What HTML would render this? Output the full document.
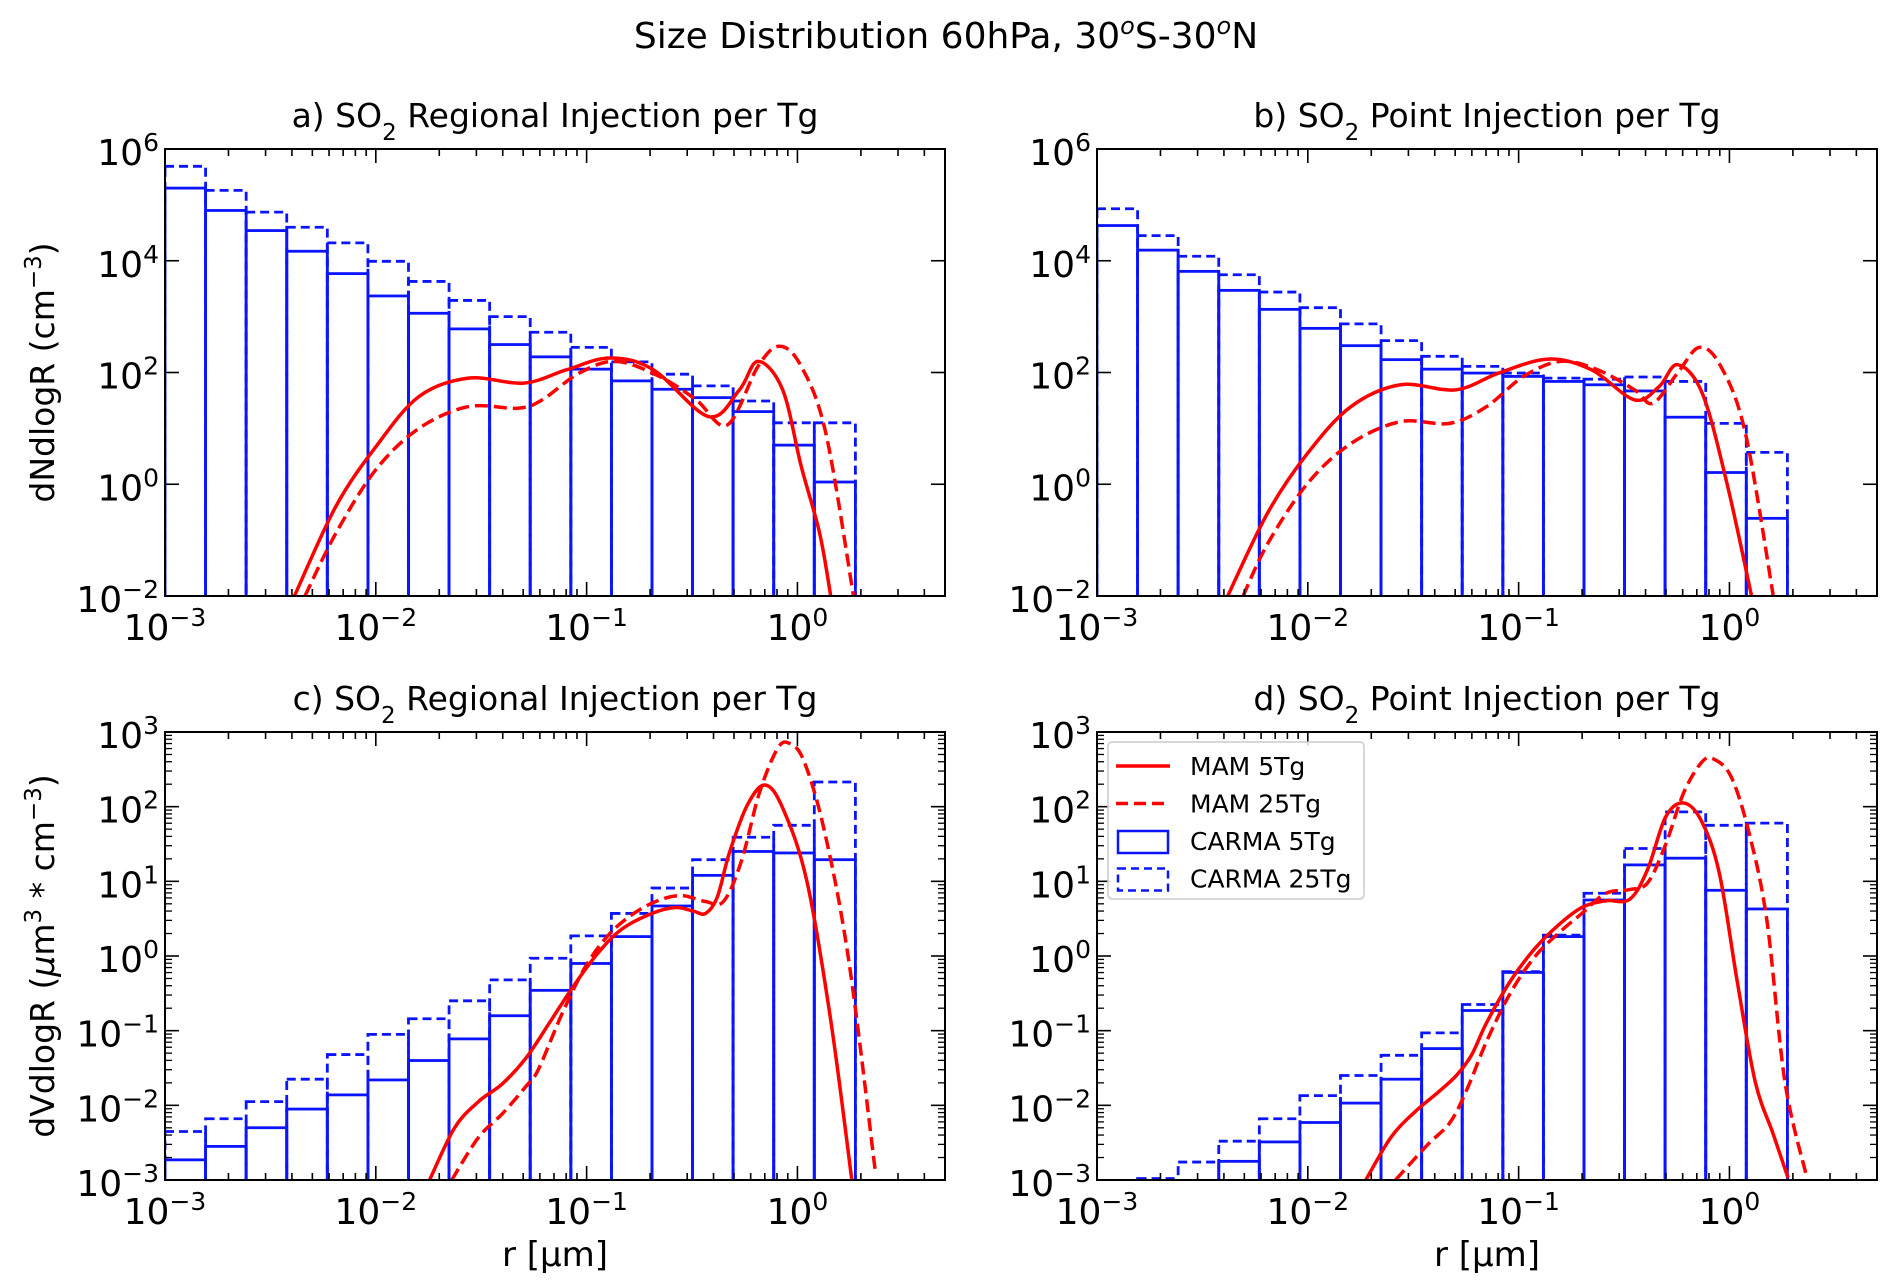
<!DOCTYPE html>
<html><head><meta charset="utf-8"><style>
html,body{margin:0;padding:0;background:#fff;}
svg{display:block;font-family:"DejaVu Sans","Liberation Sans",sans-serif;}
</style></head><body>
<svg id="fig" width="1892" height="1287" viewBox="0 0 1892 1287" xmlns="http://www.w3.org/2000/svg">
<text x="946" y="48" font-size="36" text-anchor="middle">Size Distribution 60hPa, 30<tspan baseline-shift="super" font-size="24" font-style="italic">o</tspan>S-30<tspan baseline-shift="super" font-size="24" font-style="italic">o</tspan>N</text>
</svg>
<script>
// bin edges (log10 of radius in µm)
const binLogEdges = [-3,-2.8075,-2.615,-2.4225,-2.23,-2.0375,-1.845,-1.6525,-1.46,-1.2675,-1.075,-0.8825,-0.69,-0.4975,-0.305,-0.1125,0.08,0.275];
// panel a: log10 dN/dlogR
const aCarma5 = [5.30,4.90,4.54,4.17,3.77,3.37,3.06,2.78,2.50,2.28,2.06,1.85,1.70,1.55,1.30,0.70,0.04];
const aCarma25 = [5.69,5.26,4.87,4.60,4.32,3.99,3.63,3.29,3.00,2.72,2.45,2.19,1.97,1.76,1.49,1.10,1.10];
const aMam5R = [-2.386,-2.19,-2.0,-1.795,-1.561,-1.298,-1.094,-0.889,-0.684,-0.421,-0.275,-0.187,-0.070,0.018,0.105,0.158];
const aMam5V = [-2,-0.40,0.67,1.57,1.90,1.81,2.05,2.26,2.05,1.21,1.69,2.20,1.69,0.32,-0.87,-2];
const aMam25R = [-2.336,-2.19,-2.0,-1.795,-1.561,-1.327,-1.211,-1.035,-0.860,-0.655,-0.480,-0.333,-0.187,-0.085,0.018,0.135,0.266];
const aMam25V = [-2,-0.88,0.26,1.00,1.39,1.36,1.51,1.99,2.20,1.93,1.51,1.06,2.11,2.47,2.11,0.91,-2];
// panel b
const bCarma5 = [4.63,4.19,3.81,3.47,3.13,2.79,2.48,2.23,2.06,1.99,1.93,1.84,1.78,1.67,1.20,0.21,-0.61];
const bCarma25 = [4.93,4.45,4.08,3.75,3.44,3.16,2.87,2.57,2.29,2.11,1.99,1.90,1.88,1.92,1.84,1.09,0.57];
const bMam5R = [-2.380,-2.19,-2.0,-1.795,-1.561,-1.298,-1.094,-0.860,-0.655,-0.450,-0.333,-0.246,-0.129,-0.012,0.105];
const bMam5V = [-2,-0.51,0.56,1.39,1.78,1.69,1.99,2.24,2.05,1.51,1.75,2.14,1.63,0.02,-2];
const bMam25R = [-2.307,-2.19,-2.0,-1.795,-1.561,-1.327,-1.152,-0.977,-0.801,-0.626,-0.450,-0.363,-0.246,-0.143,-0.041,0.076,0.208];
const bMam25V = [-2,-1.06,0.02,0.73,1.12,1.09,1.39,1.93,2.20,2.05,1.69,1.45,1.99,2.45,2.11,0.91,-2];
// panel c: log10 dV/dlogR
const cCarma5 = [-2.73,-2.55,-2.30,-2.05,-1.86,-1.66,-1.40,-1.11,-0.80,-0.46,-0.10,0.26,0.67,1.08,1.40,1.38,1.29];
const cCarma25 = [-2.35,-2.18,-1.95,-1.65,-1.32,-1.05,-0.84,-0.60,-0.32,-0.03,0.27,0.57,0.91,1.29,1.59,1.75,2.33];
const cMam5R = [-1.745,-1.626,-1.513,-1.399,-1.286,-1.173,-1.059,-0.946,-0.833,-0.691,-0.578,-0.493,-0.436,-0.380,-0.323,-0.238,-0.153,-0.068,0.045,0.159,0.258];
const cMam5V = [-3,-2.30,-1.95,-1.71,-1.36,-0.88,-0.39,0.04,0.36,0.57,0.65,0.60,0.57,0.79,1.38,2.02,2.29,1.97,1.00,-0.88,-3];
const cMam25R = [-1.640,-1.513,-1.399,-1.286,-1.229,-1.116,-1.003,-0.890,-0.776,-0.663,-0.550,-0.436,-0.351,-0.266,-0.181,-0.096,-0.040,0.031,0.130,0.244,0.371];
const cMam25V = [-3,-2.43,-2.11,-1.74,-1.52,-0.77,-0.13,0.30,0.57,0.74,0.81,0.73,0.73,1.27,2.18,2.77,2.85,2.61,1.65,-0.07,-2.92];
// panel d
const dCarma5 = [-4,-4,-4,-2.75,-2.49,-2.23,-1.97,-1.65,-1.24,-0.73,-0.22,0.26,0.75,1.22,1.31,0.88,0.63];
const dCarma25 = [-4,-2.98,-2.76,-2.48,-2.18,-1.87,-1.60,-1.33,-1.03,-0.65,-0.21,0.28,0.84,1.44,1.93,1.75,1.78];
const dMam5R = [-1.725,-1.606,-1.493,-1.380,-1.295,-1.224,-1.153,-1.040,-0.926,-0.813,-0.700,-0.586,-0.473,-0.388,-0.303,-0.218,-0.133,-0.048,0.037,0.122,0.207,0.278];
const dMam5V = [-3,-2.43,-2.09,-1.82,-1.60,-1.33,-0.90,-0.34,0.09,0.41,0.65,0.74,0.76,1.16,1.86,2.05,1.81,1.11,-0.34,-1.68,-2.38,-2.97];
const dMam25R = [-1.584,-1.436,-1.323,-1.238,-1.153,-1.040,-0.926,-0.813,-0.700,-0.586,-0.473,-0.388,-0.303,-0.218,-0.133,-0.076,0.008,0.093,0.178,0.263,0.363];
const dMam25V = [-3,-2.54,-2.22,-1.74,-1.15,-0.50,-0.02,0.30,0.57,0.84,0.89,0.98,1.49,2.18,2.59,2.64,2.40,1.65,0.47,-1.68,-2.92];

const xTickExps = [-3,-2,-1,0];
const NS = "http://www.w3.org/2000/svg";
const svg = document.getElementById('fig');
function el(tag, attrs, parent){const e=document.createElementNS(NS,tag);for(const k in attrs)e.setAttribute(k,attrs[k]);(parent||svg).appendChild(e);return e;}

function sup(parent, x, y, exp, anchor){
  const t = el('text',{x:x,y:y,'font-size':36,'text-anchor':anchor},parent);
  
  
  t.appendChild(document.createTextNode('10'));
  const s = el('tspan',{'baseline-shift':'super','font-size':25},t);
  s.textContent = (exp<0?'\u2212':'')+Math.abs(exp);
  return t;
}

function panel(id, L, T, R, B, yMin, yMax, yStep, yMinor, title, c5, c25, m5r, m5v, m25r, m25v, ylabel, xlabel){
  const xMin=-3, xMax=0.70;
  const g = el('g',{});
  
  
  const sx = v => L + (v-xMin)/(xMax-xMin)*(R-L);
  const sy = v => B - (v-yMin)/(yMax-yMin)*(B-T);
  const clip = el('clipPath',{id:'clip'+id},g);
  el('rect',{x:L,y:T,width:R-L,height:B-T},clip);
  const plot = el('g',{'clip-path':'url(#clip'+id+')'},g);
  function bars(vals, dash, name){
    vals.forEach((v,i)=>{
      const x0=sx(binLogEdges[i]), x1=sx(binLogEdges[i+1]), y=sy(v);
      if (y>=B) return;
      const r = el('rect',{x:x0,y:y,width:x1-x0,height:B-y+4,fill:'none',stroke:'#0a14ff','stroke-width':2.8,'stroke-dasharray':dash||'none'},plot);
      
      
    });
  }
  bars(c25,'9,5','carma25');
  bars(c5,null,'carma5');
  function curve(rs, vs, dash, name){
    const pts = rs.map((r,i)=>[sx(r),sy(vs[i])]);
    let d='M'+pts[0][0]+','+pts[0][1];
    for(let i=0;i<pts.length-1;i++){
      const p0=pts[Math.max(0,i-1)],p1=pts[i],p2=pts[i+1],p3=pts[Math.min(pts.length-1,i+2)];
      const c1=[p1[0]+(p2[0]-p0[0])/6,p1[1]+(p2[1]-p0[1])/6];
      const c2=[p2[0]-(p3[0]-p1[0])/6,p2[1]-(p3[1]-p1[1])/6];
      d+=' C'+c1[0]+','+c1[1]+' '+c2[0]+','+c2[1]+' '+p2[0]+','+p2[1];
    }
    const p = el('path',{d:d,fill:'none',stroke:'#ff0000','stroke-width':3.5,'stroke-dasharray':dash||'none'},plot);
    
    
  }
  curve(m5r,m5v,null,'mam-5tg-line');
  curve(m25r,m25v,'13,6','mam-25tg-line');
  el('rect',{x:L,y:T,width:R-L,height:B-T,fill:'none',stroke:'#000','stroke-width':2},g);
  for(let e=-3;e<=0;e++){
    for(let m=1;m<10;m++){
      const v=e+Math.log10(m); if(v>xMax) break;
      const x=sx(v), len = m===1?14:7;
      el('line',{x1:x,y1:B,x2:x,y2:B-len,stroke:'#000','stroke-width':1.6},g);
      el('line',{x1:x,y1:T,x2:x,y2:T+len,stroke:'#000','stroke-width':1.6},g);
    }
  }
  xTickExps.forEach(e=>sup(g, sx(e), B+44, e, 'middle'));
  for(let e=yMin;e<=yMax;e++){
    const y=sy(e);
    if((e-yMin)%yStep===0){
      el('line',{x1:L,y1:y,x2:L+14,y2:y,stroke:'#000','stroke-width':1.6},g);
      el('line',{x1:R,y1:y,x2:R-14,y2:y,stroke:'#000','stroke-width':1.6},g);
      sup(g, L-6, y+16, e, 'end');
    }
    if(yMinor && e<yMax){
      for(let m=2;m<10;m++){
        const yy=sy(e+Math.log10(m));
        el('line',{x1:L,y1:yy,x2:L+7,y2:yy,stroke:'#000','stroke-width':1.3},g);
        el('line',{x1:R,y1:yy,x2:R-7,y2:yy,stroke:'#000','stroke-width':1.3},g);
      }
    }
  }
  const t = el('text',{x:(L+R)/2,y:T-22,'font-size':33,'text-anchor':'middle'},g);
  
  
  t.appendChild(document.createTextNode(title[0]+' SO'));
  const s2 = el('tspan',{'baseline-shift':'sub','font-size':23},t); s2.textContent='2';
  const s3 = el('tspan',{},t); s3.textContent=' '+title[1];
  if(xlabel){
    const xl = el('text',{x:(L+R)/2,y:B+86,'font-size':34,'text-anchor':'middle'},g);
    
    
    xl.textContent='r [\u03bcm]';
  }
  if(ylabel){
    const yl = el('text',{x:0,y:0,'font-size':33,'text-anchor':'middle',transform:'translate(54,'+((T+B)/2)+') rotate(-90)'},g);
    
    
    if(ylabel==='N'){
      yl.appendChild(document.createTextNode('dNdlogR (cm'));
      const q=el('tspan',{'baseline-shift':'super','font-size':23},yl); q.textContent='\u22123';
      const q2=el('tspan',{},yl); q2.textContent=')';
    } else {
      yl.appendChild(document.createTextNode('dVdlogR ('));
      const a=el('tspan',{'font-style':'italic'},yl); a.textContent='\u03bc';
      const b=el('tspan',{},yl); b.textContent='m';
      const c=el('tspan',{'baseline-shift':'super','font-size':23},yl); c.textContent='3';
      const d=el('tspan',{},yl); d.textContent=' * cm';
      const f=el('tspan',{'baseline-shift':'super','font-size':23},yl); f.textContent='\u22123';
      const h=el('tspan',{},yl); h.textContent=')';
    }
  }
  return g;
}

panel('a',165,149,945,596,-2,6,2,false,['a)','Regional Injection per Tg'],aCarma5,aCarma25,aMam5R,aMam5V,aMam25R,aMam25V,'N',false);
panel('b',1097,149,1877,596,-2,6,2,false,['b)','Point Injection per Tg'],bCarma5,bCarma25,bMam5R,bMam5V,bMam25R,bMam25V,null,false);
panel('c',165,732,945,1180,-3,3,1,true,['c)','Regional Injection per Tg'],cCarma5,cCarma25,cMam5R,cMam5V,cMam25R,cMam25V,'V',true);
panel('d',1097,732,1877,1180,-3,3,1,true,['d)','Point Injection per Tg'],dCarma5,dCarma25,dMam5R,dMam5V,dMam25R,dMam25V,null,true);

const lg = el('g',{});


el('rect',{x:1108,y:742,width:256,height:157,rx:4,fill:'#fff','fill-opacity':0.85,stroke:'#ccc','stroke-width':1.5},lg);
const legendLabels = ['MAM 5Tg','MAM 25Tg','CARMA 5Tg','CARMA 25Tg'];
legendLabels.forEach((lab,i)=>{
  const y = 766 + i*37.5;
  if(i<2){
    el('line',{x1:1116,y1:y,x2:1170,y2:y,stroke:'#ff0000','stroke-width':3.5,'stroke-dasharray':i?'12,6':'none'},lg);
  } else {
    el('rect',{x:1118,y:y-10,width:50,height:22,fill:'none',stroke:'#0a14ff','stroke-width':2.5,'stroke-dasharray':i===3?'8,5':'none'},lg);
  }
  const t = el('text',{x:1190,y:y+9,'font-size':25},lg);
  
  
  t.textContent = lab;
});
</script>
</body></html>
